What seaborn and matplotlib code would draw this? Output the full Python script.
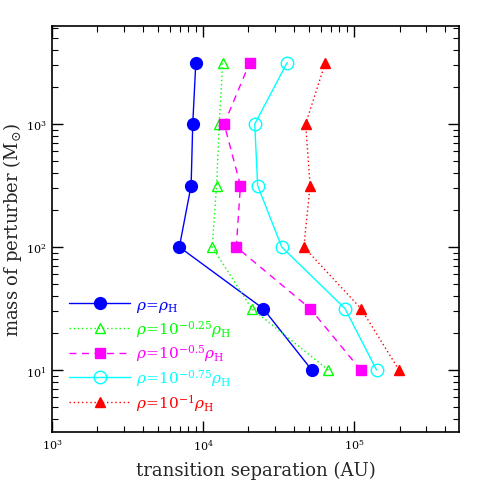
import numpy as np
import pandas as pd
import matplotlib
matplotlib.use("Agg")
import matplotlib.pyplot as plt
import seaborn as sns
from matplotlib.ticker import LogLocator, NullFormatter, FuncFormatter

# data
mass = [10, 31.6, 100, 316, 1000, 3162]
sep_rho1 = [52500, 25000, 6970, 8340, 8550, 8960]
sep_rho075 = [67600, 21000, 11500, 12300, 12800, 13500]
sep_rho05 = [110700, 51200, 16600, 17700, 13800, 20400]
sep_rho025 = [141000, 87100, 33200, 23000, 22000, 36100]
sep_rho01 = [198600, 111100, 46500, 51200, 47800, 64600]
labels = [r"$\rho\!=\!\rho_{\rm H}$",
          r"$\rho\!=\!10^{-0.25}\rho_{\rm H}$",
          r"$\rho\!=\!10^{-0.5}\rho_{\rm H}$",
          r"$\rho\!=\!10^{-0.75}\rho_{\rm H}$",
          r"$\rho\!=\!10^{-1}\rho_{\rm H}$"]

sns.set_style("ticks")
plt.rcParams['font.family'] = ['DejaVu Serif']
plt.rcParams['mathtext.fontset'] = 'dejavuserif'

fig = plt.figure(figsize=(4.85, 4.85), dpi=100)
ax = fig.add_axes([52/485, 1-433/485, 407/485, 406/485])

series = [sep_rho1, sep_rho075, sep_rho05, sep_rho025, sep_rho01]
colors = ['#0000ff', '#00ff00', '#ff00ff', '#00ffff', '#ff0000']
styles = ['-', (0, (1, 2)), (0, (5, 4)), '-', (0, (1, 2))]
markers = ['o', '^', 's', 'o', '^']
mfaces = ['#0000ff', 'none', '#ff00ff', 'none', '#ff0000']
msizes = [8.5, 7.5, 6.5, 9, 7]

for s, c, ls, m, mf, ms, lab in zip(series, colors, styles, markers, mfaces, msizes, labels):
    df = pd.DataFrame({'sep': s, 'mass': mass})
    sns.lineplot(data=df, x='sep', y='mass', sort=False, estimator=None, ax=ax,
                 color=c, linestyle=ls, linewidth=1.0, marker=m, markersize=ms,
                 markerfacecolor=mf, markeredgecolor=c, markeredgewidth=1.0,
                 label=lab)

ax.set_xscale('log')
ax.set_yscale('log')
ax.set_xlim(1e3, 10**5.695)
ax.set_ylim(10**0.496, 10**3.797)

def fmt(v, pos):
    e = int(round(np.log10(v)))
    return r"$10^{%d}$" % e

ax.xaxis.set_major_locator(LogLocator(base=10, numticks=10))
ax.yaxis.set_major_locator(LogLocator(base=10, numticks=10))
ax.xaxis.set_minor_locator(LogLocator(base=10, subs=np.arange(2, 10), numticks=20))
ax.yaxis.set_minor_locator(LogLocator(base=10, subs=np.arange(2, 10), numticks=20))
ax.xaxis.set_major_formatter(FuncFormatter(fmt))
ax.yaxis.set_major_formatter(FuncFormatter(fmt))
ax.xaxis.set_minor_formatter(NullFormatter())
ax.yaxis.set_minor_formatter(NullFormatter())
ax.tick_params(which='both', direction='in', top=True, right=True, colors='black', labelsize=8)
ax.tick_params(which='major', length=8, width=1, pad=4)
ax.tick_params(which='minor', length=4, width=0.8)
for sp in ax.spines.values():
    sp.set_linewidth(1.2)
    sp.set_color('black')

ax.set_xlabel("transition separation (AU)", fontsize=13, labelpad=6)
ax.set_ylabel(r"mass of perturber (M$_{\odot}$)", fontsize=13, labelpad=1)

leg = ax.legend(loc='lower left', bbox_to_anchor=(0.02, 0.025), frameon=False,
                handlelength=4.0, handletextpad=0.35, labelspacing=0.25, fontsize=11,
                borderaxespad=0.2)
for t, c in zip(leg.get_texts(), colors):
    t.set_color(c)

fig.savefig("out.png", dpi=100)
